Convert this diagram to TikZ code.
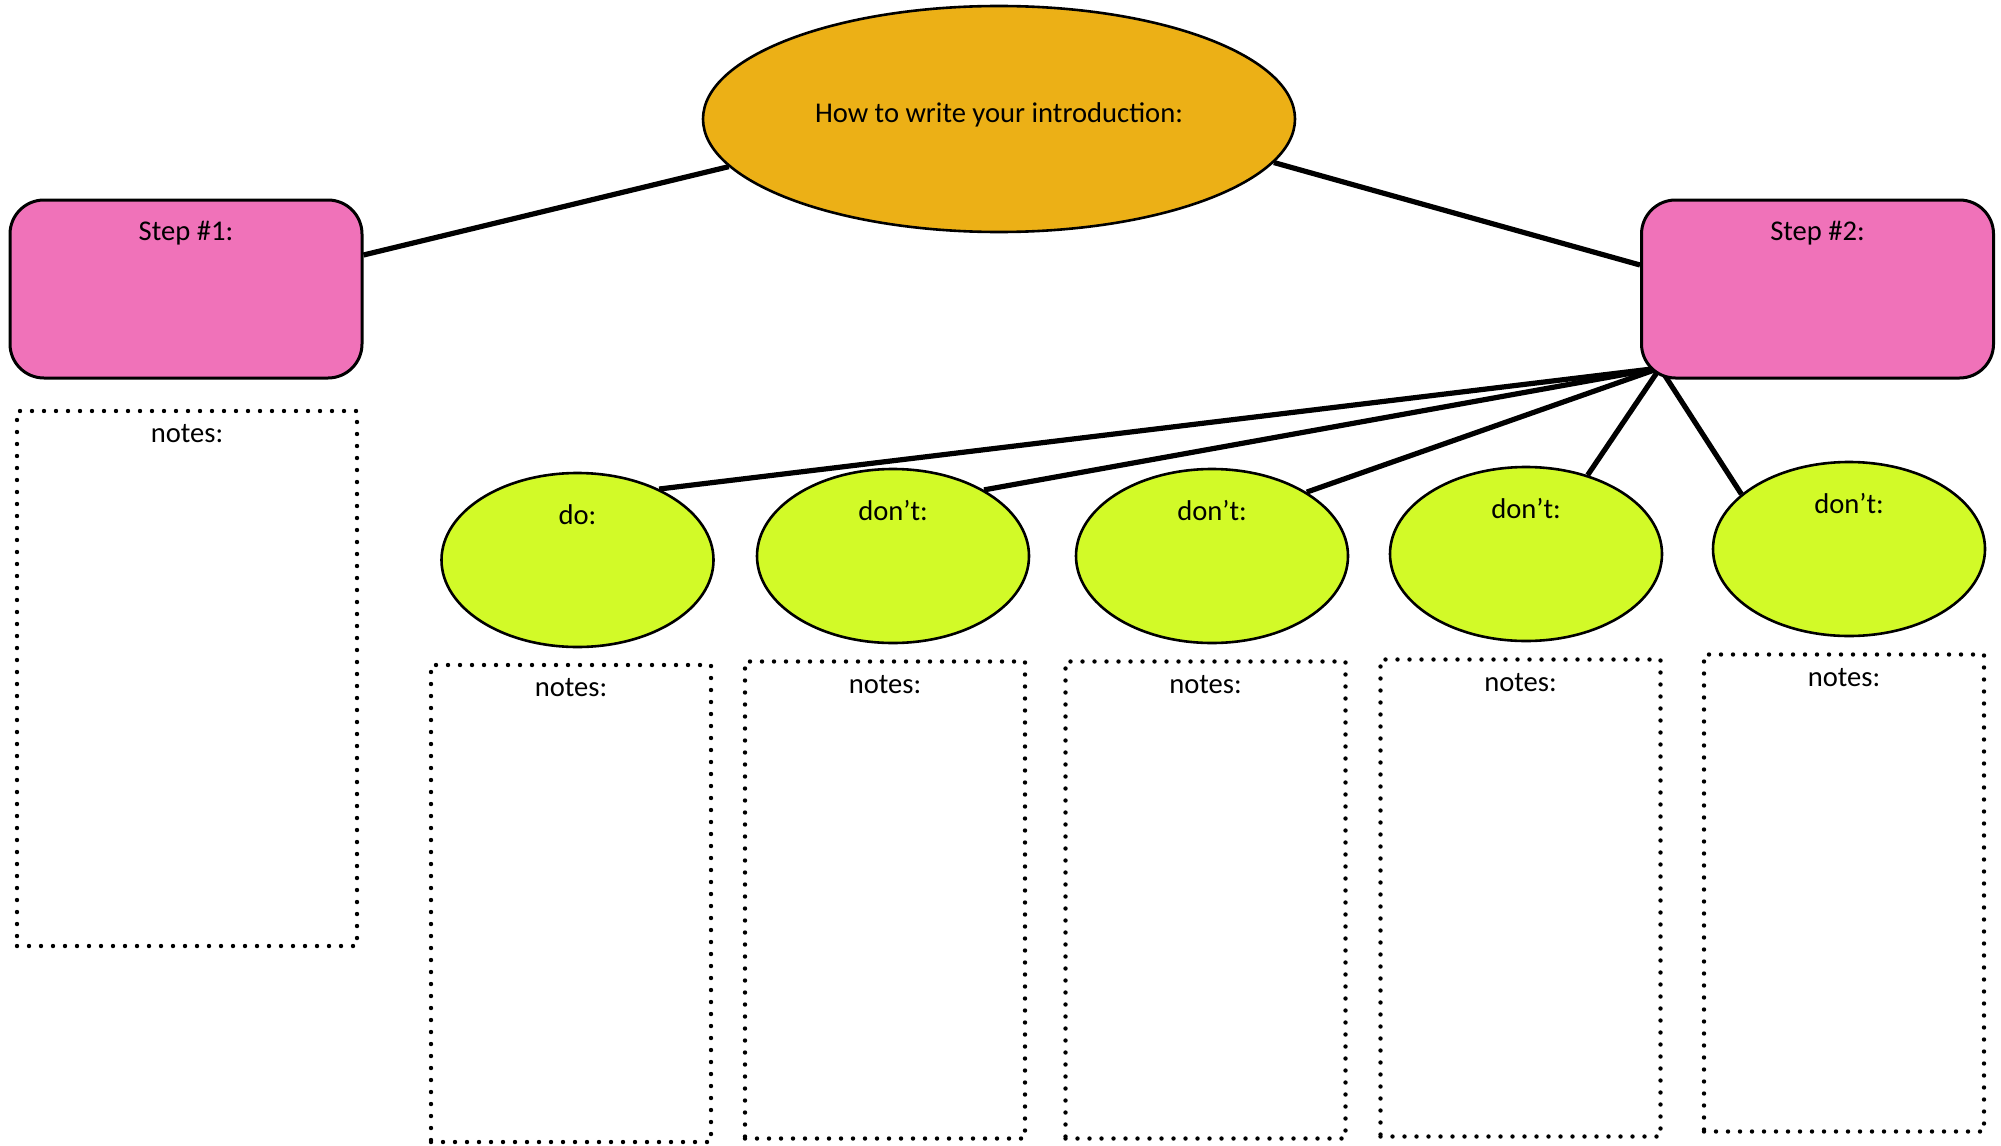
\documentclass[tikz,border=0pt]{standalone}
\usepackage{fontspec}
\setmainfont{Carlito}
\usetikzlibrary{shapes.geometric,backgrounds}
\definecolor{mainorange}{RGB}{236,176,22}
\definecolor{steppink}{RGB}{240,114,185}
\definecolor{dolime}{RGB}{210,250,40}
\tikzset{
  mainell/.style={ellipse, draw=black, line width=1.3pt, fill=mainorange, minimum width=296pt, minimum height=113pt, inner sep=0pt},
  stepbox/.style={rectangle, rounded corners=17pt, draw=black, line width=1.5pt, fill=steppink, minimum width=176pt, minimum height=89pt, inner sep=0pt},
  smallell/.style={ellipse, draw=black, line width=1.3pt, fill=dolime, minimum width=136pt, minimum height=87pt, inner sep=0pt},
  notebox/.style={rectangle, draw=black, line width=2.2pt, line cap=round, dash pattern=on 0pt off 6pt, minimum width=140pt, minimum height=238.5pt, inner sep=0pt},
  conn/.style={line width=2.6pt, draw=black},
}
\begin{document}
\begin{tikzpicture}[x=0.5pt, y=-0.5pt, font=\fontsize{14.3}{17}\selectfont]
\useasboundingbox (0,0) rectangle (2001,1145);
% main
\node[mainell, label={[anchor=center,yshift=-55pt]north:How to write your introduction:}] (main) at (999,119) {};
% steps
\node[stepbox, label={[anchor=center,yshift=-17.5pt]north:Step \#1:}] (s1) at (186,289) {};
\node[stepbox, label={[anchor=center,yshift=-17.5pt]north:Step \#2:}] (s2) at (1817.5,289) {};
% notes under step 1
\node[notebox, minimum width=170pt, minimum height=267.5pt, label={[anchor=center,yshift=-12.5pt]north:notes:}] (n0) at (187,678.5) {};
% small ellipses
\node[smallell, label={[anchor=center,yshift=-21.5pt]north:do:}] (e1) at (577.5,560) {};
\node[smallell, label={[anchor=center,yshift=-21.5pt]north:don’t:}] (e2) at (893,556) {};
\node[smallell, label={[anchor=center,yshift=-21.5pt]north:don’t:}] (e3) at (1212,556) {};
\node[smallell, label={[anchor=center,yshift=-21.5pt]north:don’t:}] (e4) at (1526,554) {};
\node[smallell, label={[anchor=center,yshift=-21.5pt]north:don’t:}] (e5) at (1849,549) {};
% notes boxes
\node[notebox, label={[anchor=center,yshift=-12.5pt]north:notes:}] (m1) at (571,903.5) {};
\node[notebox, label={[anchor=center,yshift=-12.5pt]north:notes:}] (m2) at (885,900) {};
\node[notebox, label={[anchor=center,yshift=-12.5pt]north:notes:}] (m3) at (1205.5,900) {};
\node[notebox, label={[anchor=center,yshift=-12.5pt]north:notes:}] (m4) at (1520.5,898) {};
\node[notebox, label={[anchor=center,yshift=-12.5pt]north:notes:}] (m5) at (1844,893) {};
\coordinate (hub) at (1660,368);
\begin{pgfonlayer}{background}
\draw[conn] (main.190) -- ([yshift=17pt]s1.east);
\draw[conn] (main.351) -- ([yshift=12pt]s2.west);
\draw[conn] (hub) -- (e1.41);
\draw[conn] (hub) -- (e2.36);
\draw[conn] (hub) -- (e3.34);
\draw[conn] (hub) -- (e4.52);
\draw[conn] (hub) -- (e5.153);
\end{pgfonlayer}
\end{tikzpicture}
\end{document}
